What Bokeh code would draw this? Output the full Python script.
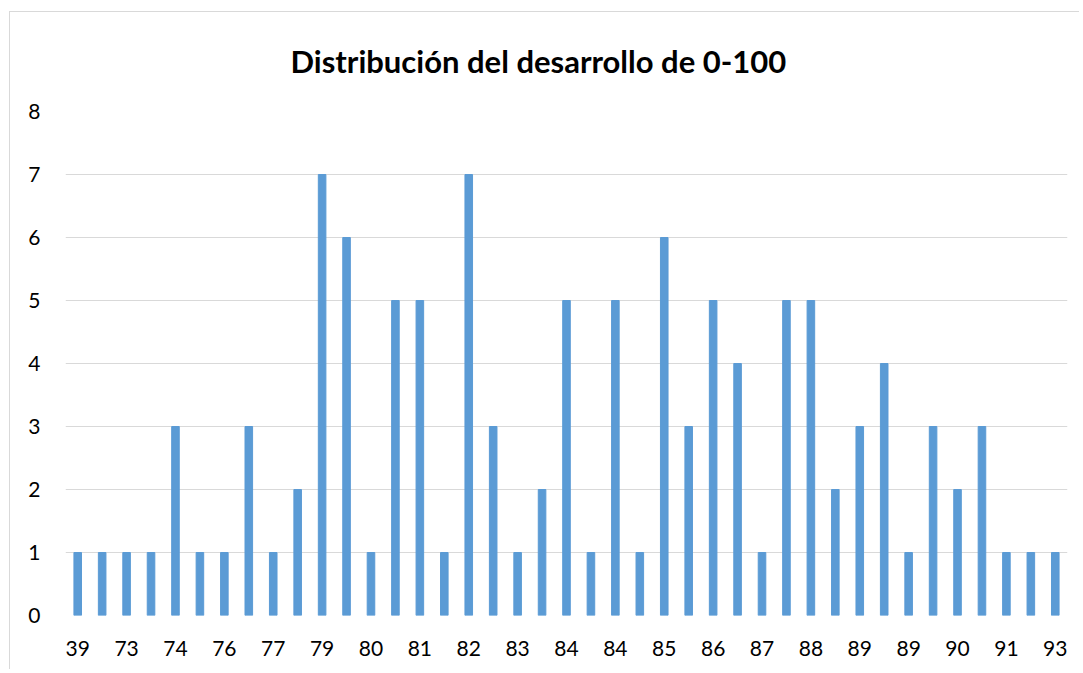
from bokeh.plotting import figure
from bokeh.models import Range1d, FixedTicker, ColumnDataSource
from bokeh.embed import file_html
from bokeh.resources import INLINE

title_text = "Distribución del desarrollo de 0-100"
tick_labels = ["39", "73", "74", "76", "77", "79", "80", "81", "82", "83", "84",
               "84", "85", "86", "87", "88", "89", "89", "90", "91", "93"]
counts = [1, 1, 1, 1, 3, 1, 1, 3, 1, 2, 7, 6, 1, 5, 5, 1, 7, 3, 1, 2, 5,
          1, 5, 1, 6, 3, 5, 4, 1, 5, 5, 2, 3, 4, 1, 3, 2, 3, 1, 1, 1]
y_ticks = [0, 1, 2, 3, 4, 5, 6, 7, 8]

idx = list(range(len(counts)))
source = ColumnDataSource(dict(x=idx, count=counts))

FONT = "Lato"

p = figure(width=1070, height=658, output_backend="svg", toolbar_location=None,
           x_range=Range1d(-0.5, len(counts) - 0.5), y_range=Range1d(0, 8),
           min_border_left=55, min_border_right=13, min_border_top=99, min_border_bottom=55)
p.styles = {"margin-left": "9px", "margin-top": "11px",
            "border-left": "1px solid #d9d9d9", "border-top": "1px solid #d9d9d9"}
p.outline_line_color = None
p.background_fill_color = "white"
p.border_fill_color = "white"

p.title.text = title_text
p.title.align = "left"
p.title.vertical_align = "top"
p.title.offset = 225
p.title.standoff = 59
p.title.text_font = FONT
p.title.text_font_size = "31px"
p.title.text_font_style = "bold"
p.title.text_color = "#000000"

p.vbar(x="x", top="count", width=0.31, source=source, color="#5b9bd5")

p.xgrid.grid_line_color = None
p.ygrid.grid_line_color = "#d9d9d9"
p.ygrid.grid_line_width = 1

tick_pos = [2 * i for i in range(len(tick_labels))]
p.xaxis.ticker = FixedTicker(ticks=tick_pos)
p.xaxis.major_label_overrides = {t: lab for t, lab in zip(tick_pos, tick_labels)}
p.yaxis.ticker = FixedTicker(ticks=y_ticks)

for ax in (p.xaxis, p.yaxis):
    ax.axis_line_color = None
    ax.major_tick_line_color = None
    ax.minor_tick_line_color = None
    ax.major_tick_in = 0
    ax.major_tick_out = 0
    ax.major_label_text_font = FONT
    ax.major_label_text_font_size = "21px"
    ax.major_label_text_color = "#000000"
p.xaxis.major_label_standoff = 25
p.yaxis.major_label_standoff = 25

open("out.html", "w").write(file_html(p, INLINE))
